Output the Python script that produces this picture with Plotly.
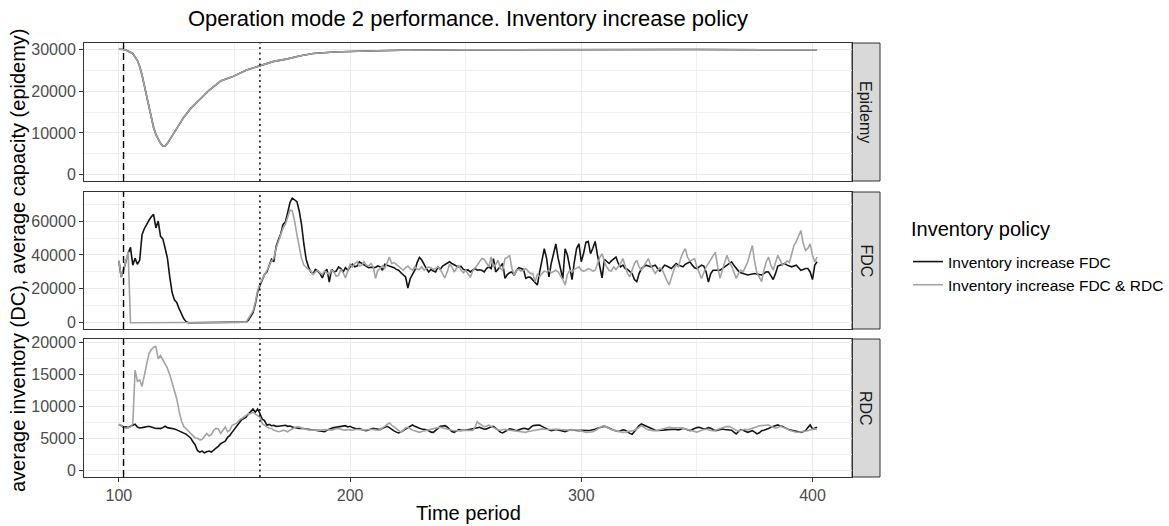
import plotly.graph_objects as go

# ---------------- data ----------------
periods = list(range(100, 403))

policy_names = ["Inventory increase FDC", "Inventory increase FDC & RDC"]
panel_names = ["Epidemy", "FDC", "RDC"]
legend_title = "Inventory policy"

x_ticks = [100, 200, 300, 400]
y_ticks_epidemy = [0, 10000, 20000, 30000]
y_ticks_fdc = [0, 20000, 40000, 60000]
y_ticks_rdc = [0, 5000, 10000, 15000, 20000]

dash_period = 102   # epidemy start
dot_period = 161    # policy switch

# epidemy capacity (identical for both policies)
epidemy_t = [100, 101, 102, 103, 104, 106, 108, 109, 110, 111, 112, 113, 114, 115, 116,
             117, 118, 119, 120, 121, 122, 124, 126, 128, 131, 135, 139, 144, 149, 155,
             161, 167, 173, 178, 184, 193, 207, 222, 250, 300, 350, 402]
epidemy_v = [30000, 30000, 29950, 29800, 29500, 29000, 27300, 25870, 23800, 21300, 18730,
             15900, 13300, 11300, 9600, 8400, 7500, 6850, 6900, 7500, 8400, 10300, 12000,
             13700, 15800, 17900, 20200, 22400, 23400, 25000, 26100, 27100, 27700, 28400,
             29000, 29350, 29600, 29750, 29850, 29950, 29950, 29850]

# FDC average inventory, policy "Inventory increase FDC"
fdc_policy_fdc = [
    36500, 27000, 31000, 36500, 41000, 44500, 34000, 38000, 34500, 37000,
    52000, 55500, 58500, 60500, 62500, 64000, 56000, 60000, 51000, 49500,
    44000, 38000, 27000, 18000, 13500, 12000, 8500, 5000, 2500, 800,
    0, 0, 0, 0, 0, 0, 0, 0, 0, 0,
    0, 0, 0, 0, 0, 0, 0, 0, 0, 0,
    0, 0, 0, 0, 0, 400, 1500, 3500, 6000, 11000,
    18000, 22000, 25000, 28500, 30000, 34000, 37500, 36000, 45000, 49000,
    52500, 58000, 59500, 65000, 71000, 73500, 72500, 71500, 66000, 58000,
    46500, 37500, 33000, 30000, 29000, 31500, 30500, 29000, 26500, 30000,
    31500, 24000, 31500, 30000, 30500, 33000, 32000, 30000, 32500, 31000,
    33000, 34500, 33000, 33500, 36000, 35000, 34000, 33000, 32500, 32800,
    32500, 32600, 33500, 33000, 31000, 34500, 34000, 33500, 33000, 32500,
    31500, 31000, 29500, 28000, 27000, 20500, 26000, 28500, 31000, 35500,
    38500, 37000, 34000, 32000, 30000, 31500, 30500, 30000, 33000, 31500,
    33500, 34500, 35000, 36000, 35000, 34000, 33500, 33000, 33300, 31500,
    31000, 31200, 30000, 31000, 32000, 31000, 31300, 31000, 30000, 32000,
    33000, 32000, 37800, 30000, 31500, 33000, 35000, 26200, 28500, 29500,
    30000, 28000, 31000, 32500, 32000, 31500, 26200, 27000, 26800, 25200,
    24000, 22300, 30000, 38000, 43700, 38000, 27000, 35000, 41700, 46500,
    38000, 31000, 26000, 43700, 40000, 33000, 25500, 36000, 44000, 46600,
    36000, 41000, 47500, 48000, 40800, 44000, 48000, 40000, 32000, 26500,
    37500, 36000, 35000, 36500, 37500, 38800, 35000, 33000, 34000, 32000,
    31500, 30500, 29000, 25500, 24300, 29000, 32000, 33000, 34000, 33500,
    33000, 33500, 34000, 32000, 30500, 32000, 34000, 33500, 32500, 32000,
    33500, 35000, 34000, 33500, 33000, 34500, 35500, 36000, 34000, 32500,
    32000, 33000, 34000, 33500, 30000, 24000, 29000, 31000, 31000, 31200,
    31000, 32000, 33000, 34500, 35500, 36000, 34000, 32000, 30500, 29500,
    29000, 28800, 28200, 28500, 29000, 29100, 28700, 28300, 28200, 29000,
    30100, 30000, 28000, 25500, 29000, 33500, 34000, 34500, 35000, 34000,
    33500, 33000, 33500, 34000, 32500, 31000, 31500, 32000, 32000, 30000,
    25500, 34000, 36000,
]

# FDC average inventory, policy "Inventory increase FDC & RDC"
fdc_policy_both = [
    36500, 27000, 31000, 36500, 42000, 0, 0, 0, 0, 0,
    0, 0, 0, 0, 0, 0, 0, 0, 0, 0,
    0, 0, 0, 0, 0, 0, 0, 0, 0, 0,
    0, 0, 0, 0, 0, 0, 0, 0, 0, 0,
    0, 0, 0, 0, 0, 0, 0, 0, 0, 0,
    0, 0, 0, 0, 0, 300, 2500, 4500, 7000, 12000,
    19000, 23000, 25500, 28000, 31000, 33500, 36500, 38000, 44000, 48000,
    51000, 56000, 58000, 63000, 66500, 66000, 60000, 52000, 45000, 38000,
    34000, 32500, 31500, 30500, 28500, 30000, 31000, 29500, 28500, 30500,
    29500, 28500, 31000, 30000, 27500, 28000, 31500, 29500, 26500, 31000,
    34500, 33000, 35000, 36000, 33500, 34000, 36000, 34000, 33500, 35000,
    33000, 26200, 31000, 32000, 33500, 32000, 36000, 38800, 35000, 35500,
    34500, 33500, 32000, 31000, 32500, 33500, 32000, 31000, 33000, 31500,
    31500, 33000, 31000, 32000, 33000, 32500, 31500, 32000, 33000, 31500,
    29000, 26500, 30000, 34500, 33000, 30000, 32000, 34000, 31000, 29500,
    31000, 29000, 26800, 30500, 32000, 34000, 36000, 38000, 37500, 35000,
    33000, 38800, 33000, 34500, 36900, 32000, 31000, 37900, 38500, 39800,
    32000, 28000, 31000, 31500, 30500, 31000, 32000, 30500, 29000, 29100,
    24300, 28500, 27200, 29000, 30500, 30000, 31000, 29500, 30500, 31000,
    30000, 28000, 25500, 22300, 28500, 31000, 30000, 31500, 32500, 33000,
    31000, 30500, 31000, 32000, 31500, 30500, 31000, 35000, 38500, 40800,
    36000, 33000, 31000, 30500, 33000, 31500, 33500, 35000, 37900, 33000,
    29000, 27200, 31000, 35000, 36900, 33000, 31000, 33500, 35500, 37900,
    34000, 31500, 29100, 31000, 32500, 31500, 28000, 25000, 22300, 27000,
    31000, 34000, 33000, 38000, 41500, 43700, 38500, 36500, 37000, 37900,
    33000, 30000, 26200, 29500, 33000, 35000, 37500, 40000, 41700, 33000,
    26200, 31000, 36000, 39800, 36000, 33500, 30000, 26200, 29000, 31000,
    30000, 33000, 36000, 41000, 45600, 36000, 29100, 27000, 24300, 31000,
    36000, 38800, 34000, 31000, 35500, 39800, 37000, 34000, 35000, 36500,
    35500, 40000, 45600, 48000, 51500, 54400, 47000, 42700, 44000, 46600,
    40000, 35900, 38800,
]

# RDC average inventory, policy "Inventory increase FDC"
rdc_policy_fdc = [
    7200, 7000, 6800, 6820, 6700, 6900, 7100, 7220, 6800, 6650,
    6700, 6750, 6850, 6920, 6800, 6650, 6570, 6600, 6550, 6700,
    6920, 6700, 6650, 6600, 6500, 6350, 6200, 6060, 5900, 5700,
    5400, 5100, 4500, 4000, 3100, 2900, 3050, 2780, 2950, 3050,
    2900, 3280, 3500, 3790, 4200, 4400, 4600, 5200, 5500, 6000,
    6500, 6900, 7400, 7900, 8100, 8330, 8800, 9300, 9600, 9100,
    9600, 8900, 8000, 7800, 7070, 7200, 7000, 7050, 6900, 6920,
    6950, 7000, 7070, 6900, 6950, 6800, 6700, 6650, 6570, 6600,
    6550, 6570, 6500, 6450, 6410, 6350, 6300, 6250, 6150, 6060,
    6300, 6500, 6600, 6700, 6750, 6820, 6950, 6900, 7000, 6800,
    6900, 6700, 6600, 6500, 6550, 6400, 6300, 6230, 6350, 6500,
    6600, 6500, 6400, 6390, 6600, 6800, 6900, 6700, 6400, 6200,
    6000, 5870, 6000, 6300, 6490, 6700, 6900, 7110, 6900, 6700,
    6600, 6500, 6450, 6350, 6200, 6000, 5970, 6300, 6700, 6900,
    6950, 7000, 6800, 6400, 6100, 5970, 6200, 6400, 6300, 6250,
    6280, 6350, 6450, 6490, 6600, 6700, 6750, 6600, 6450, 6500,
    6700, 6850, 6900, 6600, 6200, 6000, 5870, 6100, 6400, 6500,
    6450, 6300, 6230, 6350, 6500, 6600, 6550, 6400, 6700, 7000,
    7050, 7100, 7110, 6900, 6700, 6490, 6350, 6230, 6300, 6400,
    6350, 6250, 6150, 6080, 6200, 6350, 6400, 6300, 6250, 6230,
    6300, 6250, 6230, 6250, 6300, 6350, 6450, 6590, 6700, 6800,
    6900, 6800, 6600, 6450, 6300, 6200, 6100, 6200, 6350, 6300,
    6000, 5800, 5660, 6100, 6600, 7000, 7260, 7100, 6900, 6700,
    6500, 6390, 6300, 6250, 6230, 6300, 6350, 6400, 6450, 6490,
    6450, 6400, 6350, 6450, 6600, 6500, 6350, 6250, 6400, 6600,
    6700, 6750, 6600, 6490, 6550, 6700, 6600, 6400, 6230, 6300,
    6450, 6490, 6400, 6350, 6390, 6300, 6000, 5720, 6100, 6390,
    6300, 6100, 5970, 6100, 6230, 6000, 5720, 5900, 6230, 6300,
    6390, 6550, 6750, 6900, 7000, 7110, 6950, 6900, 6700, 6490,
    6350, 6300, 6230, 6150, 6000, 5970, 6100, 6230, 6700, 7110,
    6490, 6600, 6750,
]

# RDC average inventory, policy "Inventory increase FDC & RDC"
rdc_policy_both = [
    7200, 7070, 6800, 6570, 6700, 6800, 7300, 15650, 13900, 14100,
    13100, 14900, 16700, 18200, 18800, 19200, 19300, 17400, 17900, 17200,
    16700, 15900, 14900, 13600, 12400, 11200, 9300, 7800, 6900, 6570,
    6200, 5800, 5500, 5100, 5050, 4800, 4850, 5300, 5800, 5400,
    5600, 6300, 6570, 6500, 5800, 6300, 6800, 6060, 6300, 7070,
    7200, 7400, 7830, 8080, 8300, 8580, 8840, 8900, 9090, 8800,
    8590, 8330, 7320, 7000, 6820, 6600, 6570, 6310, 6200, 6060,
    6150, 6300, 6200, 6060, 6300, 6570, 6700, 6820, 6820, 6600,
    6570, 6450, 6350, 6310, 6310, 6300, 6350, 6300, 6310, 6400,
    6350, 6300, 6310, 6400, 6550, 6570, 6400, 6350, 6310, 6400,
    6350, 6300, 6400, 6450, 6400, 6350, 6300, 6350, 6400, 6450,
    6400, 6350, 6300, 6400, 6600, 6900, 7200, 7420, 7100, 6800,
    6500, 6200, 6000, 6300, 6650, 6750, 6500, 6300, 6200, 6050,
    5970, 6100, 6200, 6250, 6300, 6400, 6500, 6600, 6700, 6750,
    6650, 6500, 6400, 6350, 6300, 6250, 6200, 6150, 6200, 6250,
    6200, 6250, 6300, 6250, 6700, 7620, 7300, 7000, 6850, 6900,
    7110, 6900, 6700, 6500, 6350, 6300, 6400, 6450, 6350, 6300,
    6250, 6150, 6100, 6050, 6000, 6000, 5970, 6100, 6200, 6250,
    6300, 6350, 6450, 6500, 6450, 6400, 6350, 6400, 6450, 6500,
    6450, 6400, 6350, 6300, 6250, 6300, 6350, 6400, 6350, 6300,
    6200, 6100, 5970, 6000, 6000, 6050, 6250, 6500, 6700, 6900,
    7000, 6800, 6500, 6400, 6300, 6200, 6100, 6000, 5970, 6000,
    6050, 6100, 6150, 6300, 6500, 6800, 7000, 6800, 6500, 6350,
    6300, 6250, 6200, 6300, 6400, 6500, 6600, 6700, 6750, 6700,
    6650, 6600, 6650, 6700, 6600, 6500, 6400, 6350, 6250, 6100,
    6000, 6150, 6300, 6400, 6450, 6400, 6300, 6200, 6300, 6450,
    6600, 6750, 6800, 6850, 6900, 6700, 6450, 6300, 6200, 6300,
    6400, 6450, 6350, 6450, 6550, 6700, 6850, 7000, 7050, 7000,
    7100, 7110, 6900, 6750, 6600, 6700, 6900, 6800, 6700, 6500,
    6300, 6150, 6000, 5970, 5970, 6000, 6050, 6100, 6200, 6350,
    6450, 6500, 6400,
]

for s in (fdc_policy_fdc, fdc_policy_both, rdc_policy_fdc, rdc_policy_both):
    assert len(s) == len(periods), len(s)

# ---------------- styling ----------------
W, H = 1169, 526
FONT = "Liberation Sans, Arial, sans-serif"
COL_BLACK = "#141414"
COL_GRAY = "#A3A3A3"
policy_colors = [COL_BLACK, COL_GRAY]

x_dom = [84 / W, 852 / W]
panel_px = [(43, 181), (192, 329), (339, 477)]
y_doms = [[1 - b / H, 1 - t / H] for (t, b) in panel_px]
x_range = [84.9, 417.1]
y_ranges = [[-1500, 31500], [-3675, 77175], [-975, 20475]]
y_tick_sets = [y_ticks_epidemy, y_ticks_fdc, y_ticks_rdc]
y_minor = [5000, 10000, 2500]

fig = go.Figure()

panel_data = [
    [(epidemy_t, epidemy_v), (epidemy_t, epidemy_v)],
    [(periods, fdc_policy_fdc), (periods, fdc_policy_both)],
    [(periods, rdc_policy_fdc), (periods, rdc_policy_both)],
]

for i, series in enumerate(panel_data):
    xa = "x" if i == 0 else f"x{i+1}"
    ya = "y" if i == 0 else f"y{i+1}"
    for j, (tt, vv) in enumerate(series):
        fig.add_trace(go.Scatter(
            x=tt, y=vv, mode="lines", xaxis=xa, yaxis=ya,
            name=policy_names[j], legendgroup=policy_names[j],
            showlegend=(i == 1),
            line=dict(color=policy_colors[j], width=1.6),
            hoverinfo="skip",
        ))

layout = dict(
    width=W, height=H,
    margin=dict(l=0, r=0, t=0, b=0, autoexpand=False),
    paper_bgcolor="white", plot_bgcolor="white",
    font=dict(family=FONT, color="#1A1A1A"),
    title=dict(text="Operation mode 2 performance. Inventory increase policy",
               x=468 / W, xanchor="center", xref="paper",
               y=1 - 18 / H, yanchor="middle", yref="paper",
               font=dict(size=22, color="black", family=FONT)),
    showlegend=True,
    legend=dict(
        font=dict(size=15.5, color="black"),
        x=908 / W, xanchor="left", y=1 - 245 / H, yanchor="top",
        bgcolor="rgba(0,0,0,0)", borderwidth=0, tracegroupgap=0,
    ),
)

for i in range(3):
    xk = "xaxis" if i == 0 else f"xaxis{i+1}"
    yk = "yaxis" if i == 0 else f"yaxis{i+1}"
    ya = "y" if i == 0 else f"y{i+1}"
    xa = "x" if i == 0 else f"x{i+1}"
    bottom = (i == 2)
    layout[xk] = dict(
        domain=x_dom, anchor=ya, range=x_range, automargin=False,
        tickvals=x_ticks, ticktext=[str(v) for v in x_ticks],
        showticklabels=bottom, ticks="outside" if bottom else "",
        ticklen=4, tickcolor="#333333", tickwidth=1,
        tickfont=dict(size=16, color="#4D4D4D"),
        showgrid=True, gridcolor="#EBEBEB", gridwidth=1,
        minor=dict(tick0=0, dtick=50, showgrid=True, gridcolor="#F0F0F0", gridwidth=1),
        showline=True, mirror=True, linecolor="#333333", linewidth=1,
        zeroline=False, fixedrange=True,
    )
    layout[yk] = dict(
        domain=y_doms[i], anchor=xa, range=y_ranges[i], automargin=False,
        tickvals=y_tick_sets[i], ticktext=[str(v) for v in y_tick_sets[i]],
        ticks="outside", ticklen=4, tickcolor="#333333", tickwidth=1,
        tickfont=dict(size=16, color="#4D4D4D"),
        showgrid=True, gridcolor="#EBEBEB", gridwidth=1,
        minor=dict(tick0=0, dtick=y_minor[i], showgrid=True, gridcolor="#F0F0F0", gridwidth=1),
        showline=True, mirror=True, linecolor="#333333", linewidth=1,
        zeroline=False, fixedrange=True,
    )

fig.update_layout(**layout)

shapes = []
annotations = []
for i in range(3):
    xa = "x" if i == 0 else f"x{i+1}"
    ya = "y" if i == 0 else f"y{i+1}"
    for per, dash in ((dash_period, "7px,4px"), (dot_period, "2px,3.5px")):
        shapes.append(dict(type="line", xref=xa, yref=f"{ya} domain",
                           x0=per, x1=per, y0=0, y1=1,
                           line=dict(color="black", width=1.4, dash=dash)))
    # strip
    shapes.append(dict(type="rect", xref="paper", yref="paper",
                       x0=852 / W, x1=880 / W, y0=y_doms[i][0], y1=y_doms[i][1],
                       fillcolor="#D9D9D9", line=dict(color="#333333", width=1),
                       layer="below"))
    annotations.append(dict(text=panel_names[i], xref="paper", yref="paper",
                            x=866 / W, y=(y_doms[i][0] + y_doms[i][1]) / 2,
                            xanchor="center", yanchor="middle",
                            textangle=90, showarrow=False,
                            font=dict(size=16, color="#1A1A1A")))

annotations.append(dict(text="average inventory (DC), average capacity (epidemy)",
                        xref="paper", yref="paper", x=18 / W, y=1 - 260 / H,
                        xanchor="center", yanchor="middle",
                        textangle=-90, showarrow=False,
                        font=dict(size=20, color="black")))
annotations.append(dict(text="Time period", xref="paper", yref="paper",
                        x=468 / W, y=1 - 513 / H, xanchor="center", yanchor="middle",
                        showarrow=False, font=dict(size=20, color="black")))
annotations.append(dict(text=legend_title, xref="paper", yref="paper",
                        x=909 / W, y=1 - 229 / H, xanchor="left", yanchor="middle",
                        showarrow=False, font=dict(size=20, color="black")))

fig.update_layout(shapes=shapes, annotations=annotations)

fig.write_html("out.html")
